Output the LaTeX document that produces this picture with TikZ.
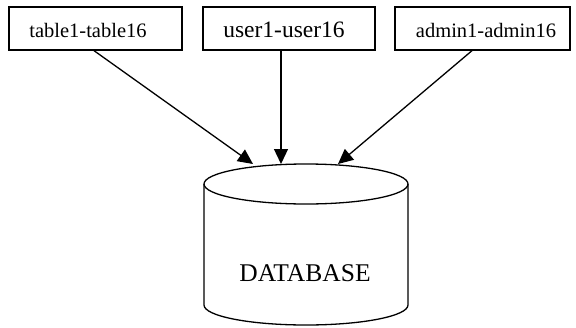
\documentclass[tikz,border=0pt]{standalone}
\usepackage{fontspec}
\setmainfont{Liberation Serif}
\usetikzlibrary{arrows.meta,calc}
\begin{document}
\begin{tikzpicture}[x=1pt,y=1pt,
  box/.style={draw,line width=1.3pt,minimum height=43pt,inner sep=0pt},
  conn/.style={line width=1.3pt,-{Triangle[length=15pt,width=14pt]}},
  cyl/.style={line width=1.3pt}]
\useasboundingbox[fill=white] (0,0) rectangle (576,-327);
% boxes
\node[box,minimum width=173pt] (b1) at (95.5,-28.5) {};
\node[font=\fontsize{20.5}{24}\selectfont] (l1) at (88,-30) {table1-table16};
\node[box,minimum width=172pt] (b2) at (289,-28.5) {};
\node[font=\fontsize{23.5}{27}\selectfont] (l2) at (284,-30) {user1-user16};
\node[box,minimum width=175pt] (b3) at (482.5,-28.5) {};
\node[font=\fontsize{20.5}{24}\selectfont] (l3) at (486,-30) {admin1-admin16};
% cylinder
\draw[cyl] (306,-184) ellipse [x radius=102pt, y radius=20pt];
\draw[cyl] (204,-184) -- (204,-305) arc[start angle=180, end angle=360, x radius=102pt, y radius=20pt] -- (408,-184);
\node[font=\fontsize{25.5}{30}\selectfont] (db) at (305,-273.5) {DATABASE};
% arrow targets on the top of the cylinder
\coordinate (t1) at (253,-164);
\coordinate (t2) at (281,-164);
\coordinate (t3) at (338,-164);
\draw[conn] (b1.south -| 94,0) -- (t1);
\draw[conn] (b2.south -| t2) -- (t2);
\draw[conn] (b3.south -| 472,0) -- (t3);
\end{tikzpicture}
\end{document}
